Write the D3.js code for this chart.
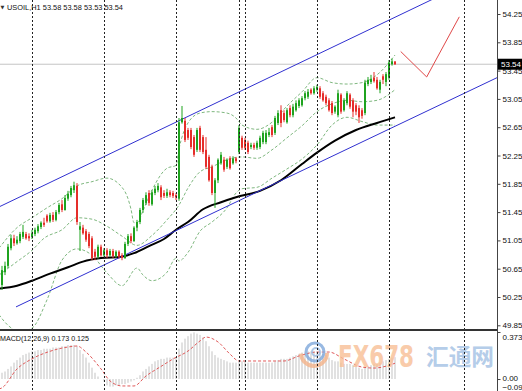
<!DOCTYPE html>
<html><head><meta charset="utf-8">
<script src="https://cdn.jsdelivr.net/npm/d3@7"></script>
<style>body{margin:0;background:#fff;} svg{display:block;}</style>
</head><body><svg id="c" width="522" height="391"></svg>
<script>
// ---------- DATA ----------
const openP = [50.42,50.60,50.69,50.94,51.08,51.01,51.04,51.10,51.14,51.11,51.10,51.14,51.18,51.24,51.30,51.40,51.32,51.41,51.34,51.45,51.56,51.48,51.64,51.69,51.76,51.82,51.20,51.23,51.18,51.14,51.08,50.89,50.82,50.96,50.84,50.91,50.84,50.90,50.83,50.89,50.84,50.80,51.00,51.11,51.04,51.23,51.31,51.48,51.58,51.72,51.56,51.72,51.76,51.80,51.72,51.68,51.73,51.72,51.69,51.64,52.72,52.74,52.61,52.61,52.51,52.33,52.64,52.51,52.33,52.23,52.09,51.72,51.90,52.14,52.19,52.09,52.21,52.14,52.21,52.30,52.50,52.47,52.43,52.37,52.40,52.36,52.37,52.44,52.44,52.54,52.65,52.57,52.71,52.89,52.85,52.72,52.92,52.82,52.89,52.95,52.96,53.06,53.08,53.18,53.13,53.18,53.20,53.13,53.08,53.03,52.99,52.87,52.82,53.11,52.89,52.99,53.11,53.03,52.96,52.92,52.89,52.85,53.26,53.29,53.35,53.32,53.18,53.37,53.29,53.35,53.54,53.58];
const highP = [50.69,50.75,51.00,51.13,51.13,51.11,51.17,51.27,51.17,51.15,51.20,51.23,51.28,51.32,51.37,51.42,51.44,51.45,51.48,51.58,51.62,51.69,51.75,51.82,51.88,51.86,51.31,51.27,51.21,51.17,51.11,50.93,50.99,50.99,50.94,50.94,50.93,50.93,50.91,50.91,50.87,51.03,51.14,51.15,51.25,51.34,51.51,51.65,51.73,51.76,51.76,51.82,51.86,51.83,51.76,51.78,51.76,51.75,51.72,52.78,52.95,52.78,52.64,52.64,52.54,52.64,52.67,52.54,52.51,52.26,52.12,51.93,52.21,52.30,52.23,52.21,52.24,52.24,52.23,52.68,52.53,52.50,52.46,52.43,52.43,52.46,52.53,52.60,52.61,52.64,52.68,52.81,52.89,52.96,52.89,52.92,52.96,52.98,53.03,53.06,53.09,53.16,53.19,53.20,53.23,53.25,53.23,53.16,53.11,53.06,53.02,52.96,53.18,53.13,53.06,53.16,53.13,53.06,52.99,52.96,52.92,53.32,53.36,53.39,53.43,53.36,53.32,53.40,53.43,53.60,53.62,53.58];
const lowP = [50.35,50.56,50.66,50.91,50.97,50.99,51.01,51.07,51.06,51.04,51.07,51.11,51.15,51.21,51.24,51.30,51.30,51.31,51.32,51.42,51.45,51.47,51.61,51.66,51.72,51.27,50.90,51.13,51.03,50.94,50.77,50.77,50.79,50.82,50.82,50.80,50.82,50.80,50.80,50.79,50.77,50.79,50.97,51.01,51.03,51.18,51.28,51.44,51.55,51.54,51.54,51.69,51.73,51.62,51.65,51.65,51.66,51.65,51.62,51.61,52.70,52.44,52.47,52.34,52.23,52.30,52.30,52.27,52.06,51.88,51.69,51.51,51.86,52.12,52.02,52.06,52.05,52.12,52.14,52.27,52.33,52.33,52.27,52.34,52.33,52.33,52.34,52.41,52.41,52.51,52.51,52.54,52.68,52.65,52.72,52.70,52.79,52.79,52.87,52.92,52.94,53.03,53.05,53.11,53.11,53.15,53.05,53.01,52.96,52.87,52.82,52.84,52.79,52.84,52.87,52.96,52.91,52.79,52.82,52.71,52.77,52.82,53.23,53.26,53.28,53.18,53.13,53.26,53.23,53.32,53.52,53.53];
const closeP = [50.63,50.69,50.96,51.08,51.01,51.06,51.14,51.17,51.08,51.08,51.15,51.20,51.25,51.30,51.27,51.32,51.41,51.34,51.45,51.55,51.48,51.65,51.71,51.79,51.83,51.31,51.25,51.15,51.06,50.97,50.80,50.82,50.96,50.84,50.91,50.84,50.90,50.83,50.89,50.82,50.80,51.00,51.11,51.04,51.23,51.31,51.48,51.62,51.69,51.58,51.73,51.78,51.82,51.66,51.68,51.73,51.69,51.68,51.66,52.72,52.78,52.47,52.50,52.37,52.26,52.61,52.33,52.30,52.09,51.90,51.72,51.90,52.19,52.26,52.05,52.19,52.07,52.21,52.17,52.64,52.36,52.36,52.30,52.40,52.36,52.43,52.50,52.57,52.57,52.58,52.54,52.78,52.85,52.71,52.75,52.89,52.82,52.94,52.99,53.03,53.06,53.13,53.15,53.13,53.20,53.22,53.08,53.03,52.99,52.89,52.85,52.94,53.13,52.87,53.03,53.13,52.94,52.87,52.87,52.79,52.81,53.28,53.32,53.33,53.30,53.20,53.29,53.32,53.40,53.56,53.58,53.54];
const macdMain = [0.05,0.06,0.08,0.10,0.13,0.15,0.17,0.19,0.20,0.21,0.22,0.22,0.23,0.23,0.24,0.24,0.24,0.25,0.25,0.25,0.26,0.26,0.27,0.27,0.27,0.26,0.23,0.20,0.17,0.13,0.09,0.05,0.02,0.00,-0.02,-0.05,-0.06,-0.06,-0.05,-0.05,-0.04,-0.04,-0.03,-0.02,-0.01,0.01,0.03,0.06,0.08,0.10,0.12,0.14,0.15,0.16,0.16,0.17,0.17,0.17,0.17,0.24,0.29,0.32,0.34,0.36,0.37,0.36,0.35,0.33,0.30,0.26,0.22,0.19,0.17,0.16,0.15,0.14,0.13,0.13,0.13,0.14,0.14,0.14,0.13,0.13,0.13,0.13,0.13,0.13,0.13,0.13,0.13,0.14,0.15,0.16,0.16,0.16,0.17,0.18,0.19,0.20,0.21,0.21,0.22,0.22,0.22,0.22,0.21,0.20,0.19,0.17,0.15,0.14,0.14,0.13,0.12,0.12,0.12,0.11,0.10,0.09,0.08,0.09,0.10,0.11,0.12,0.12,0.13,0.14,0.15,0.16,0.17,0.173];
const signalIdx = [-1,0,5,10,16,22,25,28,33,36,40,44,48,53,57,62,66,68,72,76,79,86,94,99,105,109,114,120,124,131];
const signalVal = [-0.08,-0.07,0.08,0.16,0.22,0.254,0.262,0.214,0.08,-0.015,-0.055,-0.055,0.024,0.10,0.159,0.222,0.302,0.333,0.294,0.198,0.143,0.143,0.143,0.183,0.214,0.214,0.159,0.095,0.087,0.125];
const maIdx = [-1,5,10,16,22,27,33,40,44,49,54,58,62,67,73,78,86,93,100,105,111,118,125,131];
const maVal = [50.37,50.41,50.48,50.58,50.67,50.75,50.80,50.82,50.87,50.97,51.07,51.20,51.31,51.49,51.59,51.66,51.75,51.90,52.13,52.29,52.46,52.61,52.71,52.79];
const bbUpperIdx = [-1,5,10,15,20,25,30,35,40,42,43,44,45,47,50,55,58,59,62,66,70,75,78,80,85,90,95,100,105,110,115,120,125,131];
const bbUpper = [50.94,51.23,51.37,51.51,51.64,51.82,51.88,51.93,51.80,51.64,51.49,51.30,51.30,51.47,51.76,52.07,52.11,52.34,52.71,52.85,52.87,52.85,52.78,52.68,52.62,52.72,52.95,53.15,53.35,53.28,53.26,53.28,53.39,53.67];
const bbMiddleIdx = [-1,5,10,14,20,25,30,35,40,45,50,55,59,62,66,70,75,80,85,90,95,100,105,110,115,120,125,131];
const bbMiddle = [50.56,50.75,50.91,51.08,51.20,51.37,51.35,51.25,51.11,50.98,51.12,51.34,51.55,51.79,52.02,52.09,52.19,52.23,52.21,52.33,52.50,52.67,52.87,52.98,53.03,53.01,53.03,53.18];
const bbLowerIdx = [-1,2,6,10,15,20,25,30,35,40,45,47,50,55,58,59,62,66,70,75,78,80,85,90,95,100,105,110,115,120,125,131];
const bbLower = [50.00,49.85,49.76,49.81,50.21,50.77,50.93,50.84,50.59,50.41,50.66,50.56,50.48,50.60,50.80,50.76,50.88,51.18,51.31,51.51,51.72,51.78,51.80,51.93,52.06,52.20,52.40,52.68,52.79,52.73,52.68,52.68];
const separatorIdx = [10,34,58,79,81,105,129,154];
const priceTicks = [54.25,53.85,53.45,53.05,52.65,52.25,51.85,51.45,51.05,50.65,50.25,49.85];
const macdTicks = [0.373,0.00,-0.095];
const upperChannel = [[-0.67,51.53],[150,54.59]];
const lowerChannel = [[4.67,50.11],[165,53.35]];
const handLine = [[132.9,53.72],[141.56,53.36],[152.43,54.21]];
const lastPrice = 53.54;
const titleText = "USOIL,H1 53.58 53.58 53.53 53.54";
const macdText = "MACD(12,26,9) 0.173 0.125";
const brandLatin = "FX678";
const brandChinese = "汇通网";

// ---------- LAYOUT ----------
const W = 522, H = 391, axisX = 497, mainBottom = 329, subTop = 331;
const svg = d3.select("#c");
const x = d3.scaleLinear().domain([0,165]).range([2,497]);
const y = d3.scaleLinear().domain([49.85,54.25]).range([325.3,14]);
const ym = d3.scaleLinear().domain([-0.095,0.373]).range([391,332]);
const FONT = "'Liberation Sans', Arial, sans-serif";

const defs = svg.append("defs");
defs.append("clipPath").attr("id","cm").append("rect").attr("x",0).attr("y",0).attr("width",axisX).attr("height",mainBottom);
defs.append("clipPath").attr("id","cs").append("rect").attr("x",0).attr("y",subTop).attr("width",axisX).attr("height",H-subTop);

svg.append("rect").attr("width",W).attr("height",H).attr("fill","#fff");

const main = svg.append("g").attr("clip-path","url(#cm)");
const sub = svg.append("g").attr("clip-path","url(#cs)");

// current price line
main.append("line").attr("x1",0).attr("x2",axisX).attr("y1",y(lastPrice)).attr("y2",y(lastPrice)).attr("stroke","#c4c4c4").attr("stroke-width",1);

// Bollinger bands
const bandLine = (idx, arr) => d3.line().x((d,i)=>x(idx[i])).y(d=>y(d)).curve(d3.curveMonotoneX)(arr);
[[bbUpperIdx,bbUpper],[bbMiddleIdx,bbMiddle],[bbLowerIdx,bbLower]].forEach(([idx,a])=>{
  main.append("path").attr("d",bandLine(idx,a)).attr("fill","none").attr("stroke","#80b880").attr("stroke-width",1).attr("stroke-dasharray","3,2");
});

// moving average
main.append("path").attr("d",d3.line().x((d,i)=>x(maIdx[i])).y(d=>y(d)).curve(d3.curveMonotoneX)(maVal))
  .attr("fill","none").attr("stroke","#000").attr("stroke-width",2);

// channel lines
[upperChannel,lowerChannel].forEach(c=>{
  main.append("line").attr("x1",x(c[0][0])).attr("y1",y(c[0][1])).attr("x2",x(c[1][0])).attr("y2",y(c[1][1]))
    .attr("stroke","#3030d0").attr("stroke-width",1);
});

// candles
const cg = main.append("g");
closeP.forEach((c,i)=>{
  const o = openP[i], up = c >= o, col = up ? "#1fa31f" : "#e52e2a";
  const X = Math.round(x(i));
  cg.append("rect").attr("x",X-0.5).attr("width",1).attr("y",y(highP[i])).attr("height",Math.max(1,y(lowP[i])-y(highP[i]))).attr("fill",col);
  const top = y(Math.max(o,c)), bot = y(Math.min(o,c));
  cg.append("rect").attr("x",X-1).attr("width",2).attr("y",top).attr("height",Math.max(1,bot-top)).attr("fill",col);
});

// hand-drawn red line
main.append("path").attr("d",d3.line().x(d=>x(d[0])).y(d=>y(d[1]))(handLine)).attr("fill","none").attr("stroke","#e04848").attr("stroke-width",1);

// MACD histogram
const hg = sub.append("g");
macdMain.forEach((v,i)=>{
  const X = Math.round(x(i));
  hg.append("rect").attr("x",X-0.5).attr("width",1).attr("y",Math.min(ym(v),ym(0))).attr("height",Math.abs(ym(v)-ym(0))).attr("fill","#c3c3c3");
});
sub.append("path").attr("d",d3.line().x((d,i)=>x(signalIdx[i])).y(d=>ym(d)).curve(d3.curveMonotoneX)(signalVal))
  .attr("fill","none").attr("stroke","#e05a5a").attr("stroke-width",1).attr("stroke-dasharray","3,2");

// watermark
const wm = svg.append("g").attr("opacity",0.8);
wm.append("circle").attr("cx",314).attr("cy",353).attr("r",13).attr("fill","none").attr("stroke","#f4b48a").attr("stroke-width",4).attr("stroke-dasharray","40 42");
wm.append("circle").attr("cx",315).attr("cy",352).attr("r",9).attr("fill","none").attr("stroke","#7fa8dc").attr("stroke-width",3);
wm.append("circle").attr("cx",316).attr("cy",352).attr("r",4).attr("fill","none").attr("stroke","#9bbbe2").attr("stroke-width",2);
wm.append("text").attr("x",338).attr("y",367).attr("font-family","'DejaVu Sans Condensed','DejaVu Sans',sans-serif").attr("font-weight","bold")
  .attr("font-size",31).attr("fill","#f8bf96").attr("textLength",76).attr("lengthAdjust","spacingAndGlyphs").text(brandLatin);
wm.append("text").attr("x",426).attr("y",365).attr("font-family","'Noto Sans CJK SC',sans-serif").attr("font-weight","bold")
  .attr("font-size",23).attr("fill","#a3c1e4").attr("textLength",68).attr("lengthAdjust","spacingAndGlyphs").text(brandChinese);

// separators
separatorIdx.forEach(s=>{
  const X = Math.round(x(s))+0.5;
  svg.append("line").attr("x1",X).attr("x2",X).attr("y1",0).attr("y2",H).attr("stroke","#222").attr("stroke-width",1).attr("stroke-dasharray","2,2");
});

// panel separator
svg.append("rect").attr("x",0).attr("y",mainBottom).attr("width",axisX).attr("height",2).attr("fill","#333");

// right axis
svg.append("line").attr("x1",axisX+0.5).attr("x2",axisX+0.5).attr("y1",0).attr("y2",H).attr("stroke","#444").attr("stroke-width",1);
const ax = svg.append("g").attr("transform",`translate(${axisX+0.5},0)`)
  .call(d3.axisRight(y).tickValues(priceTicks).tickSize(3).tickPadding(2).tickFormat(d3.format(".2f")));
ax.select(".domain").remove();
ax.selectAll("text").attr("font-family",FONT).attr("font-size",8).attr("fill","#111");
ax.selectAll("line").attr("stroke","#444");

const axm = svg.append("g").attr("transform",`translate(${axisX+0.5},0)`)
  .call(d3.axisRight(ym).tickValues(macdTicks).tickSize(3).tickPadding(2).tickFormat(d=>d===0?"0.00":d3.format(".3f")(d)));
axm.select(".domain").remove();
axm.selectAll("text").attr("font-family",FONT).attr("font-size",8).attr("fill","#111")
  .attr("dy",(d)=> d===0.373 ? "0.9em" : d===-0.095 ? "-0.2em" : "0.2em");
axm.selectAll("line").attr("stroke","#444");

// last price label
svg.append("rect").attr("x",axisX+1).attr("y",y(lastPrice)-5.5).attr("width",W-axisX-1).attr("height",11).attr("fill","#000");
svg.append("text").attr("x",axisX+4).attr("y",y(lastPrice)+3).attr("font-family",FONT).attr("font-size",8).attr("fill","#fff").text(d3.format(".2f")(lastPrice));

// titles
svg.append("text").attr("x",0.5).attr("y",9).attr("font-family","'DejaVu Sans',sans-serif").attr("font-size",5).attr("fill","#333").text("▼");
svg.append("text").attr("x",7).attr("y",10).attr("font-family",FONT).attr("font-size",8).attr("fill","#111")
  .attr("textLength",116).attr("lengthAdjust","spacingAndGlyphs").text(titleText);
svg.append("text").attr("x",0).attr("y",341).attr("font-family",FONT).attr("font-size",8).attr("fill","#111")
  .attr("textLength",89).attr("lengthAdjust","spacingAndGlyphs").text(macdText);
</script></body></html>
